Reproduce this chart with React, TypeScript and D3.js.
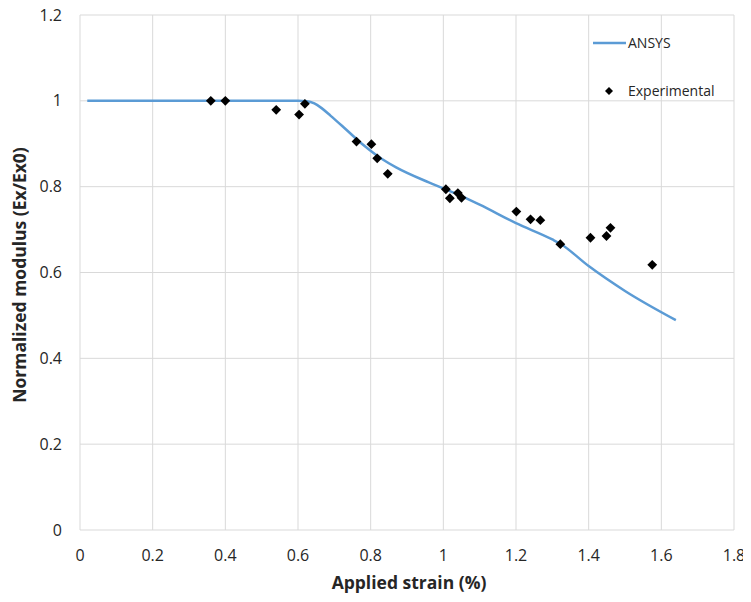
import { useEffect, useRef } from 'react';
import * as d3 from 'd3';

// ANSYS simulation curve
const ansysStrain = [0.02, 0.6, 0.625, 0.645, 0.665, 0.69, 0.73, 0.78, 0.83, 0.87, 0.96, 1.0, 1.05, 1.1, 1.2, 1.3, 1.322, 1.4, 1.5, 1.64];
const ansysModulus = [1.0, 1.0, 0.999, 0.994, 0.983, 0.965, 0.935, 0.897, 0.865, 0.845, 0.81, 0.796, 0.778, 0.758, 0.715, 0.677, 0.667, 0.615, 0.557, 0.489];

// Experimental points
const expStrain = [0.36, 0.40, 0.54, 0.603, 0.619, 0.761, 0.802, 0.818, 0.847, 1.007, 1.018, 1.04, 1.05, 1.201, 1.24, 1.267, 1.322, 1.405, 1.449, 1.46, 1.575];
const expModulus = [1.0, 1.0, 0.979, 0.968, 0.993, 0.905, 0.899, 0.866, 0.83, 0.794, 0.773, 0.785, 0.774, 0.742, 0.724, 0.722, 0.666, 0.681, 0.685, 0.704, 0.618];

const xTicks = [0, 0.2, 0.4, 0.6, 0.8, 1, 1.2, 1.4, 1.6, 1.8];
const yTicks = [0, 0.2, 0.4, 0.6, 0.8, 1, 1.2];

export default function App() {
  const svgRef = useRef<SVGSVGElement>(null);

  useEffect(() => {
    if (!svgRef.current) return;
    const width = 751;
    const height = 602;
    const margin = { top: 15, right: 17, bottom: 72, left: 80 };
    const font = "'Open Sans', 'Noto Sans', sans-serif";

    const svg = d3.select(svgRef.current);
    svg.selectAll('*').remove();

    const x = d3.scaleLinear().domain([0, 1.8]).range([margin.left, width - margin.right]);
    const y = d3.scaleLinear().domain([0, 1.2]).range([height - margin.bottom, margin.top]);

    svg.append('rect').attr('width', width).attr('height', height).attr('fill', '#fff');

    // Grid
    const grid = svg.append('g');
    grid.selectAll('.vg')
      .data(xTicks)
      .enter()
      .append('line')
      .attr('x1', d => x(d)).attr('x2', d => x(d))
      .attr('y1', y(0)).attr('y2', y(1.2))
      .attr('stroke', '#d9d9d9').attr('stroke-width', 1);
    grid.selectAll('.hg')
      .data(yTicks)
      .enter()
      .append('line')
      .attr('x1', x(0)).attr('x2', x(1.8))
      .attr('y1', d => y(d)).attr('y2', d => y(d))
      .attr('stroke', '#d9d9d9').attr('stroke-width', 1);

    // Tick labels
    svg.append('g').selectAll('text')
      .data(xTicks)
      .enter()
      .append('text')
      .attr('x', d => x(d))
      .attr('y', 561)
      .attr('text-anchor', 'middle')
      .attr('font-family', font)
      .attr('font-size', 16)
      .attr('fill', '#262626')
      .text(d => String(d));
    svg.append('g').selectAll('text')
      .data(yTicks)
      .enter()
      .append('text')
      .attr('x', 62)
      .attr('y', d => y(d))
      .attr('dy', '0.35em')
      .attr('text-anchor', 'end')
      .attr('font-family', font)
      .attr('font-size', 16)
      .attr('fill', '#262626')
      .text(d => String(d));

    // Axis titles
    svg.append('text')
      .attr('x', 409)
      .attr('y', 589)
      .attr('text-anchor', 'middle')
      .attr('font-family', font)
      .attr('font-weight', 'bold')
      .attr('font-size', 17.5)
      .attr('fill', '#262626')
      .text('Applied strain (%)');
    svg.append('text')
      .attr('transform', 'translate(26,275) rotate(-90)')
      .attr('text-anchor', 'middle')
      .attr('font-family', font)
      .attr('font-weight', 'bold')
      .attr('font-size', 17.5)
      .attr('fill', '#262626')
      .text('Normalized modulus (Ex/Ex0)');

    // ANSYS line
    const line = d3.line<number>()
      .x((d, i) => x(ansysStrain[i]))
      .y(d => y(d))
      .curve(d3.curveMonotoneX);
    svg.append('path')
      .attr('d', line(ansysModulus))
      .attr('fill', 'none')
      .attr('stroke', '#5b9bd5')
      .attr('stroke-width', 2.5)
      .attr('stroke-linejoin', 'round');

    // Experimental diamonds
    const diamond = d3.symbol().type(d3.symbolSquare).size(48);
    svg.append('g').selectAll('path')
      .data(expModulus)
      .enter()
      .append('path')
      .attr('d', diamond)
      .attr('transform', (d, i) => `translate(${x(expStrain[i])},${y(d)}) rotate(45)`)
      .attr('fill', '#000');

    // Legend
    const lg = svg.append('g');
    lg.append('line')
      .attr('x1', 593).attr('x2', 626)
      .attr('y1', 43).attr('y2', 43)
      .attr('stroke', '#5b9bd5').attr('stroke-width', 2.5);
    lg.append('text')
      .attr('x', 628).attr('y', 43).attr('dy', '0.35em')
      .attr('font-family', font).attr('font-size', 14).attr('fill', '#262626')
      .text('ANSYS');
    lg.append('path')
      .attr('d', d3.symbol().type(d3.symbolSquare).size(32)())
      .attr('transform', 'translate(609,91) rotate(45)')
      .attr('fill', '#000');
    lg.append('text')
      .attr('x', 628).attr('y', 91).attr('dy', '0.35em')
      .attr('font-family', font).attr('font-size', 14).attr('fill', '#262626')
      .text('Experimental');
  }, []);

  return (
    <div style={{ margin: -8 }}>
      <svg ref={svgRef} width={751} height={602} viewBox="0 0 751 602" style={{ display: 'block' }} />
    </div>
  );
}
